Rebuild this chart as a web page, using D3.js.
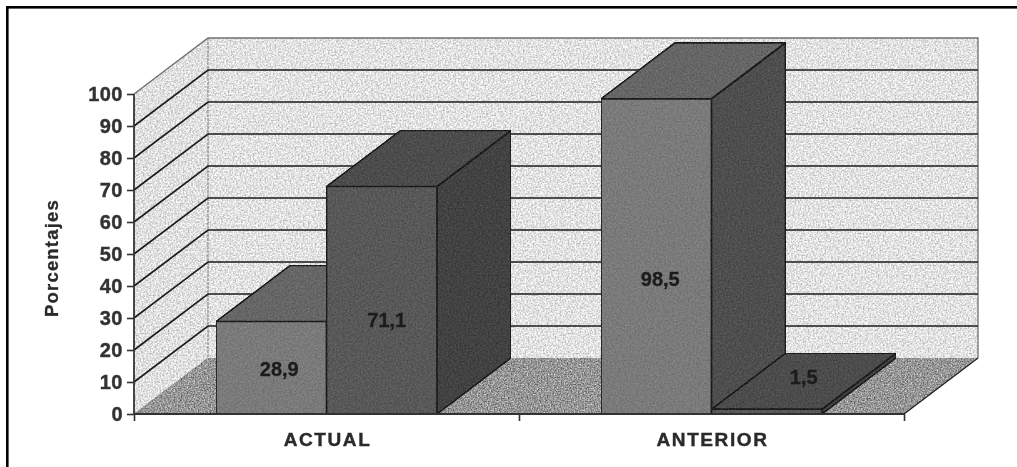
<!DOCTYPE html>
<html><head><meta charset="utf-8">
<script src="https://cdn.jsdelivr.net/npm/d3@7/dist/d3.min.js"></script>
<style>html,body{margin:0;padding:0;background:#fff;overflow:hidden}svg{display:block}
text{font-family:"Liberation Sans",Arial,sans-serif;font-weight:bold;fill:#2a2a2a}</style>
</head><body><svg id="c" width="1017" height="467"></svg>
<script>
const categories = ["ACTUAL", "ANTERIOR"];
const seriesNames = ["a", "b"];
const seriesA = [28.9, 98.5];
const seriesB = [71.1, 1.5];
const yTicks = [0,10,20,30,40,50,60,70,80,90,100];
const yTitle = "Porcentajes";

const svg = d3.select("#c");
const x0 = 134, x1 = 904, yB = 414, yT = 94, dX = 74, dY = -56;
const x = d3.scaleBand().domain(categories).range([x0, x1]);
const inner = d3.scaleBand().domain(seriesNames).range([82, x.step() - 82]);
const y = d3.scaleLinear().domain([0, 100]).range([yB, yT]);

const defs = svg.append("defs");
function speckle(id, amp, freq, blur) {
  const f = defs.append("filter").attr("id", id).attr("x", 0).attr("y", 0).attr("width", 1).attr("height", 1)
    .attr("color-interpolation-filters", "sRGB");
  f.append("feTurbulence").attr("type", "fractalNoise").attr("baseFrequency", freq).attr("numOctaves", 2).attr("seed", 4).attr("result", "n");
  f.append("feColorMatrix").attr("in", "n").attr("type", "matrix")
    .attr("values", "1 0 0 0 0 1 0 0 0 0 1 0 0 0 0 0 0 0 0 1").attr("result", "g");
  f.append("feGaussianBlur").attr("in", "g").attr("stdDeviation", blur).attr("result", "gb");
  f.append("feComposite").attr("in", "SourceGraphic").attr("in2", "gb").attr("operator", "arithmetic")
    .attr("k1", 0).attr("k2", 1).attr("k3", amp).attr("k4", -amp / 2).attr("result", "m");
  f.append("feComposite").attr("in", "m").attr("in2", "SourceAlpha").attr("operator", "in");
}
speckle("wall", 0.55, 0.6, 0.5);
speckle("floor", 0.8, 0.7, 0.4);
speckle("bar", 0.2, 0.6, 0.6);
const soft = defs.append("filter").attr("id", "soft").attr("filterUnits", "userSpaceOnUse")
  .attr("x", 0).attr("y", 0).attr("width", 1017).attr("height", 467);
soft.append("feGaussianBlur").attr("stdDeviation", 0.65);

const g = svg.append("g").attr("filter", "url(#soft)");
const poly = pts => pts.map(p => p.join(",")).join(" ");
const wallC = "#e2e2e2", edge = "#707070", dark = "#1c1c1c";

// walls and floor
g.append("polygon").attr("points", poly([[x0 + dX, y(100) + dY], [x1 + dX, y(100) + dY], [x1 + dX, y(0) + dY], [x0 + dX, y(0) + dY]]))
  .attr("fill", wallC).attr("filter", "url(#wall)");
g.append("polygon").attr("points", poly([[x0, y(100)], [x0 + dX, y(100) + dY], [x0 + dX, y(0) + dY], [x0, y(0)]]))
  .attr("fill", "#e0e0e0").attr("filter", "url(#wall)");
g.append("polygon").attr("points", poly([[x0, y(0)], [x0 + dX, y(0) + dY], [x1 + dX, y(0) + dY], [x1, y(0)]]))
  .attr("fill", "#969696").attr("filter", "url(#floor)");

// wall outlines
g.append("polyline").attr("points", poly([[x0, y(100)], [x0 + dX, y(100) + dY], [x1 + dX, y(100) + dY], [x1 + dX, y(0) + dY]]))
  .attr("fill", "none").attr("stroke", edge).attr("stroke-width", 1.3);
g.append("line").attr("x1", x0 + dX).attr("x2", x0 + dX).attr("y1", y(100) + dY).attr("y2", y(0) + dY)
  .attr("stroke", "#8a8a8a").attr("stroke-width", 1.2).attr("stroke-dasharray", "3 1");
g.append("line").attr("x1", x1 + dX).attr("x2", x1).attr("y1", y(0) + dY).attr("y2", y(0)).attr("stroke", "#222").attr("stroke-width", 1.3);

// gridlines
g.append("g").selectAll("polyline").data(yTicks.filter(t => t > 0 && t < 100)).join("polyline")
  .attr("points", t => poly([[x0, y(t)], [x0 + dX, y(t) + dY], [x1 + dX, y(t) + dY]]))
  .attr("fill", "none").attr("stroke", dark).attr("stroke-width", 1.6);

// bars
const faceColors = {
  a: {front: "#7a7a7a", top: "#666666", side: "#4e4e4e"},
  b: {front: "#585858", top: "#4c4c4c", side: "#424242"}
};
const rows = categories.flatMap((c, i) => [
  {c, s: "a", v: seriesA[i]},
  {c, s: "b", v: seriesB[i]}
]);
const bars = g.append("g").selectAll("g").data(rows).join("g");
function faces(sel, fn, key) {
  sel.append("polygon").attr("points", d => poly(fn(d))).attr("fill", d => faceColors[d.s][key])
    .attr("stroke", dark).attr("stroke-width", 1.7).attr("stroke-linejoin", "round").attr("filter", "url(#bar)");
}
const L = d => x(d.c) + inner(d.s), R = d => L(d) + inner.bandwidth();
faces(bars, d => [[R(d), y(0)], [R(d) + dX, y(0) + dY], [R(d) + dX, y(d.v) + dY], [R(d), y(d.v)]], "side");
faces(bars, d => [[L(d), y(d.v)], [L(d) + dX, y(d.v) + dY], [R(d) + dX, y(d.v) + dY], [R(d), y(d.v)]], "top");
faces(bars, d => [[L(d), y(0)], [L(d), y(d.v)], [R(d), y(d.v)], [R(d), y(0)]], "front");

// value labels: offset from the middle of each bar's front face
const labelOffsets = [[8, 1], [5, 20], [4, 23], [37, -35]];
g.append("g").selectAll("text").data(rows).join("text")
  .attr("x", (d, i) => (L(d) + R(d)) / 2 + labelOffsets[i][0])
  .attr("y", (d, i) => y(d.v / 2) + labelOffsets[i][1] + 7)
  .attr("text-anchor", "middle").attr("font-size", 20).style("fill", "#1c1c1c")
  .style("stroke", "#1c1c1c").style("stroke-width", 0.3)
  .text(d => String(d.v).replace(".", ","));

// axes
const yAxis = g.append("g").attr("transform", `translate(${x0},0)`)
  .call(d3.axisLeft(y).tickValues(yTicks).tickSize(7).tickPadding(4));
const xAxis = g.append("g").attr("transform", `translate(0,${yB})`)
  .call(d3.axisBottom(d3.scalePoint().domain(d3.range(categories.length + 1)).range([x0, x1])).tickSize(7).tickFormat(""));
[yAxis, xAxis].forEach(a => {
  a.select(".domain").attr("stroke", "#333").attr("stroke-width", 1.8);
  a.selectAll(".tick line").attr("stroke", "#333").attr("stroke-width", 1.6);
});
yAxis.select(".domain").attr("d", `M0,${yT}V${yB}`);
xAxis.select(".domain").attr("d", `M${x0},0H${x1}`);
yAxis.selectAll("text").attr("font-size", 20).attr("letter-spacing", 0.5).style("fill", "#333")
  .style("stroke", "#333").style("stroke-width", 0.4)
  .style("font-family", '"Liberation Sans"').style("font-weight", "bold");

g.append("g").selectAll("text").data(categories).join("text")
  .attr("x", d => x(d) + x.bandwidth() / 2 + 1).attr("y", 446)
  .attr("text-anchor", "middle").attr("font-size", 19).attr("letter-spacing", 1.6)
  .style("stroke", "#2a2a2a").style("stroke-width", 0.4).text(d => d);

g.append("text").attr("transform", "translate(58,258) rotate(-90)").attr("text-anchor", "middle")
  .attr("font-size", 18.5).attr("letter-spacing", 1.2)
  .style("stroke", "#2a2a2a").style("stroke-width", 0.3).text(yTitle);

// frame
g.append("rect").attr("x", 6).attr("y", 6).attr("width", 1011).attr("height", 2.6).attr("fill", "#000");
g.append("rect").attr("x", 6).attr("y", 6).attr("width", 2.6).attr("height", 461).attr("fill", "#000");
</script></body></html>
